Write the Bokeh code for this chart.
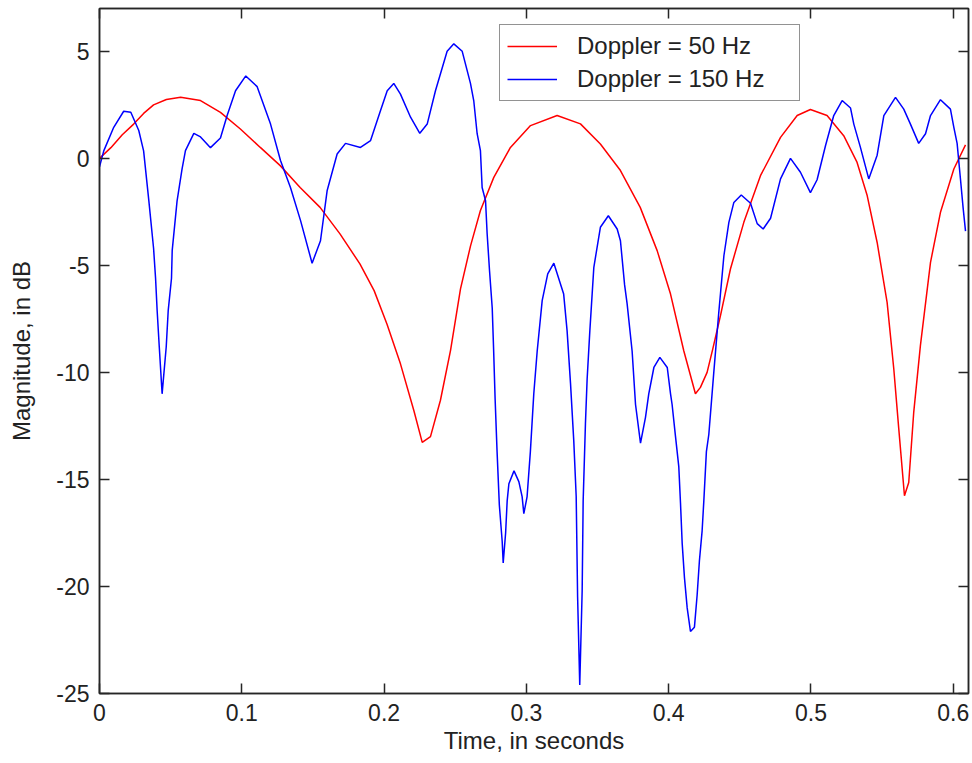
from bokeh.plotting import figure
from bokeh.models import (ColumnDataSource, Range1d, FixedTicker, LinearAxis,
                          CustomJSTickFormatter, Legend, LegendItem)
from bokeh.embed import file_html
from bokeh.resources import INLINE

# ---- data ----
t_50 = [0.000, 0.008, 0.016, 0.024, 0.031, 0.038, 0.047, 0.057, 0.071, 0.085,
        0.099, 0.113, 0.127, 0.141, 0.155, 0.169, 0.183, 0.193, 0.202, 0.2115,
        0.221, 0.2268, 0.2326, 0.2396, 0.2467, 0.2537, 0.2607, 0.2677, 0.2771, 0.2888,
        0.3029, 0.3216, 0.338, 0.352, 0.3661, 0.380, 0.3919, 0.4013, 0.4106, 0.4188,
        0.4223, 0.427, 0.431, 0.4364, 0.4434, 0.4528, 0.4645, 0.4786, 0.4903, 0.4996,
        0.5113, 0.523, 0.5324, 0.5395, 0.5465, 0.5535, 0.5582, 0.5617, 0.5657, 0.5687,
        0.5722, 0.5769, 0.584, 0.591, 0.6004, 0.6086]
db_50 = [0.0, 0.5, 1.1, 1.6, 2.1, 2.5, 2.75, 2.85, 2.7, 2.15,
         1.37, 0.51, -0.34, -1.36, -2.29, -3.53, -4.93, -6.18, -7.74, -9.6,
         -11.8, -13.27, -13.0, -11.3, -8.97, -6.1, -4.1, -2.44, -0.89, 0.51,
         1.53, 2.0, 1.61, 0.67, -0.57, -2.29, -4.31, -6.34, -8.99, -11.0,
         -10.7, -10.0, -8.9, -7.35, -5.17, -2.99, -0.81, 0.98, 2.0, 2.28,
         2.0, 1.06, -0.19, -1.74, -3.93, -6.73, -9.84, -12.64, -15.76, -15.14,
         -11.87, -8.75, -4.86, -2.52, -0.5, 0.63]

t_150 = [0.000, 0.003, 0.010, 0.017, 0.022, 0.0276, 0.031, 0.0347, 0.038, 0.0394,
         0.0405, 0.042, 0.044, 0.0469, 0.0483, 0.0506, 0.0511, 0.0545, 0.058, 0.0604,
         0.0663, 0.071, 0.078, 0.085, 0.0897, 0.0956, 0.1028, 0.1108, 0.1202, 0.1272,
         0.1342, 0.1413, 0.1494, 0.1553, 0.160, 0.167, 0.1729, 0.1834, 0.1905, 0.1975,
         0.2022, 0.2068, 0.2115, 0.2186, 0.2251, 0.2303, 0.2361, 0.2443, 0.249, 0.2549,
         0.2607, 0.263, 0.2654, 0.2677, 0.2689, 0.2713, 0.2724, 0.2741, 0.276, 0.277,
         0.278, 0.2794, 0.281, 0.283, 0.2837, 0.2854, 0.2865, 0.2877, 0.2913, 0.2947,
         0.297, 0.2982, 0.3005, 0.3028, 0.3052, 0.3076, 0.3111, 0.315, 0.3193, 0.3262,
         0.3286, 0.331, 0.3333, 0.3350, 0.3360, 0.3375, 0.3392, 0.3399, 0.3415, 0.3427,
         0.3446, 0.3474, 0.352, 0.3576, 0.3638, 0.3661, 0.369, 0.3708, 0.3743, 0.3767,
         0.3802, 0.3837, 0.386, 0.3896, 0.3938, 0.399, 0.4013, 0.4024, 0.4048, 0.4071,
         0.4083, 0.4095, 0.4111, 0.413, 0.4153, 0.4181, 0.420, 0.4216, 0.4235, 0.4247,
         0.4265, 0.4282, 0.4317, 0.4352, 0.4388, 0.4423, 0.4458, 0.451, 0.4575, 0.4622,
         0.4664, 0.4716, 0.4786, 0.4856, 0.4926, 0.4996, 0.5043, 0.5102, 0.516, 0.5219,
         0.5278, 0.5301, 0.5348, 0.5406, 0.5465, 0.5512, 0.5594, 0.5652, 0.5699, 0.5757,
         0.5805, 0.584, 0.591, 0.598, 0.6004, 0.6027, 0.605, 0.6069, 0.6086]
db_150 = [-0.4, 0.35, 1.45, 2.2, 2.15, 1.3, 0.35, -2.0, -4.2, -5.6,
          -7.1, -8.8, -11.0, -8.8, -7.1, -5.6, -4.3, -2.0, -0.5, 0.36,
          1.17, 1.0, 0.5, 0.95, 2.0, 3.16, 3.85, 3.35, 1.6, -0.1,
          -1.36, -2.91, -4.9, -3.85, -1.5, 0.2, 0.7, 0.51, 0.83, 2.23,
          3.16, 3.5, 3.0, 1.92, 1.17, 1.6, 3.16, 5.0, 5.35, 5.0,
          3.5, 2.7, 1.15, 0.36, -1.36, -1.98, -3.5, -5.25, -7.0, -9.0,
          -11.2, -13.7, -16.2, -17.9, -18.9, -17.5, -16.0, -15.2, -14.6, -15.1,
          -15.8, -16.6, -15.8, -13.7, -11.0, -9.0, -6.65, -5.4, -4.9, -6.34,
          -8.05, -10.5, -13.2, -15.8, -20.5, -24.6, -20.2, -16.0, -12.4, -10.3,
          -8.05, -5.09, -3.22, -2.68, -3.3, -3.85, -5.9, -6.8, -9.0, -11.5,
          -13.3, -12.1, -11.0, -9.77, -9.3, -9.77, -11.0, -11.5, -13.0, -14.4,
          -16.1, -18.0, -19.6, -21.0, -22.1, -21.9, -20.4, -18.8, -17.4, -16.0,
          -13.7, -12.9, -10.0, -7.2, -4.55, -2.99, -2.06, -1.71, -2.1, -3.05,
          -3.3, -2.8, -0.96, 0.0, -0.65, -1.6, -1.0, 0.59, 2.0, 2.7,
          2.35, 1.6, 0.5, -0.96, 0.15, 2.0, 2.85, 2.3, 1.6, 0.7,
          1.15, 2.0, 2.74, 2.3, 1.45, 0.7, -0.93, -2.3, -3.4]

x_ticks = [0, 0.1, 0.2, 0.3, 0.4, 0.5, 0.6]
y_ticks = [-25, -20, -15, -10, -5, 0, 5]
series_labels = ["Doppler = 50 Hz", "Doppler = 150 Hz"]
x_label = "Time, in seconds"
y_label = "Magnitude, in dB"

FONT = "Liberation Sans"
AX = "#262626"

p = figure(width=970, height=761, output_backend="svg", toolbar_location=None,
           x_range=Range1d(0, 0.6107), y_range=Range1d(-25, 7),
           min_border_left=99, min_border_right=2, min_border_top=8,
           min_border_bottom=68, x_axis_label=x_label, y_axis_label=y_label)
p.background_fill_color = "white"
p.border_fill_color = "white"
p.outline_line_color = AX
p.outline_line_width = 1.5
p.grid.visible = False

src50 = ColumnDataSource(dict(t=t_50, db=db_50))
src150 = ColumnDataSource(dict(t=t_150, db=db_150))
r50 = p.line("t", "db", source=src50, line_color="#ff0000", line_width=1.5)
r150 = p.line("t", "db", source=src150, line_color="#0000ff", line_width=1.5)

label_fmt = CustomJSTickFormatter(code="return tick.toString()")
blank_fmt = CustomJSTickFormatter(code="return ''")

def style_axis(ax, ticks, fmt, font_size="23px"):
    ax.ticker = FixedTicker(ticks=ticks)
    ax.formatter = fmt
    ax.minor_tick_line_color = None
    ax.major_tick_in = 10
    ax.major_tick_out = 0
    ax.major_tick_line_color = AX
    ax.major_tick_line_width = 1.5
    ax.axis_line_color = AX
    ax.axis_line_width = 1.5
    ax.major_label_text_font = FONT
    ax.major_label_text_font_size = font_size
    ax.major_label_text_color = "#222222"
    ax.axis_label_text_font = FONT
    ax.axis_label_text_font_size = "24px"
    ax.axis_label_text_font_style = "normal"
    ax.axis_label_text_color = "#222222"

style_axis(p.xaxis[0], x_ticks, label_fmt)
style_axis(p.yaxis[0], y_ticks, label_fmt)
p.xaxis[0].major_label_standoff = 10
p.xaxis[0].axis_label_standoff = 3
p.yaxis[0].major_label_standoff = 10
p.yaxis[0].axis_label_standoff = 18

top_ax = LinearAxis()
right_ax = LinearAxis()
style_axis(top_ax, x_ticks, blank_fmt, "1px")
style_axis(right_ax, y_ticks, blank_fmt, "1px")
top_ax.major_label_standoff = 0
right_ax.major_label_standoff = 0
p.add_layout(top_ax, "above")
p.add_layout(right_ax, "right")

legend = Legend(items=[LegendItem(label=series_labels[0], renderers=[r50]),
                       LegendItem(label=series_labels[1], renderers=[r150])],
                location=(400, 592))
legend.label_text_font = FONT
legend.label_text_font_size = "24px"
legend.label_text_color = "#222222"
legend.padding = 7
legend.spacing = 5
legend.margin = 0
legend.glyph_width = 50
legend.glyph_height = 26
legend.label_height = 26
legend.label_width = 215
legend.label_standoff = 20
legend.border_line_color = AX
legend.border_line_width = 1.5
legend.background_fill_color = "white"
legend.background_fill_alpha = 1.0
p.add_layout(legend, "center")

open("out.html", "w").write(file_html(p, INLINE))
